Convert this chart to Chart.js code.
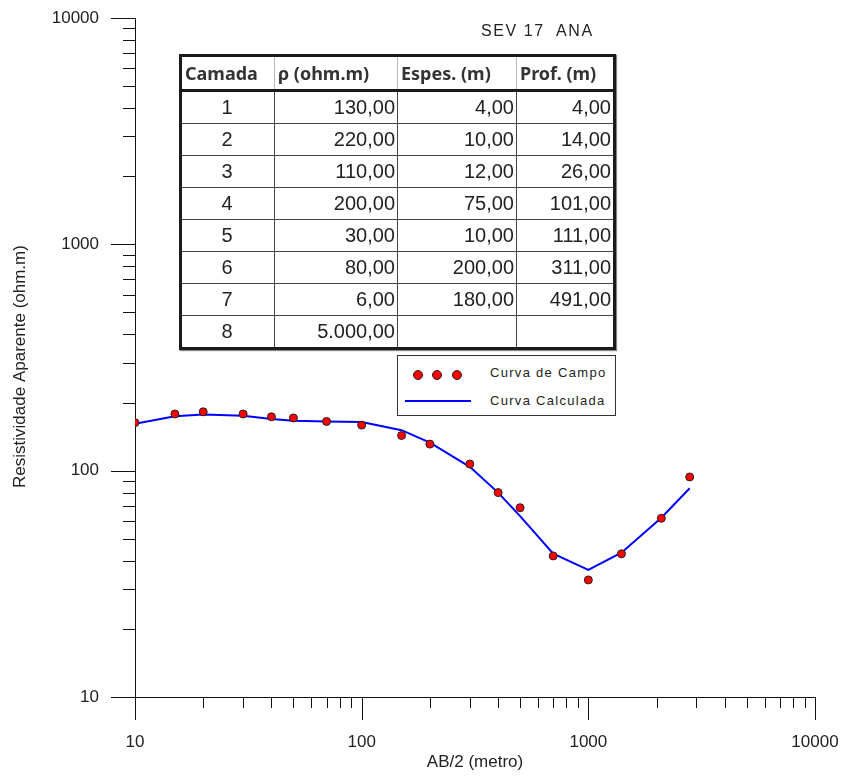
<!DOCTYPE html>
<html>
<head>
<meta charset="utf-8">
<script src="https://cdn.jsdelivr.net/npm/chart.js@4.4.1/dist/chart.umd.min.js"></script>
<style>
  body { margin: 0; background: #fff; }
  #wrap { position: relative; width: 845px; height: 778px; }
  #sevTitle { position: absolute; left: 481px; top: 22px; font: 16px "Liberation Sans", Arial, sans-serif; letter-spacing: 1.6px; color: #222; white-space: pre; }
  #layers { position: absolute; left: 179px; top: 54px; border-collapse: collapse; border: 3px solid #1a1a1a; background: #fff; box-shadow: 1px 1px 1px #888; table-layout: fixed; }
  #layers th { font: bold 18px "Noto Sans", "Open Sans", sans-serif; color: #333; height: 32px; padding: 0 3px; border-left: 1px solid #bbb; border-right: 1px solid #bbb; border-bottom: 3px solid #1a1a1a; text-align: left; white-space: nowrap; overflow: hidden; }
  #layers td { font: 20px "Liberation Sans", Arial, sans-serif; color: #222; height: 31px; padding: 0 2px 0 0; border: 1px solid #444; text-align: right; line-height: 31px; }
  #layers td:first-child { text-align: center; }
  #legend { position: absolute; left: 397px; top: 355px; width: 217px; height: 59px; border: 1px solid #333; background: #fff; font: 13px "Liberation Sans", Arial, sans-serif; letter-spacing: 1.3px; color: #222; }
  .dot { position: absolute; top: 14px; width: 8px; height: 8px; border-radius: 50%; background: #ff0000; border: 1px solid #222; }
  .lbl { position: absolute; left: 92px; }
</style>
</head>
<body>
<div id="wrap">
  <canvas id="chart1" width="845" height="778"></canvas>
  <div id="sevTitle">SEV 17  ANA</div>
  <table id="layers"></table>
  <div id="legend">
    <div class="dot" style="left:15px"></div>
    <div class="dot" style="left:34px"></div>
    <div class="dot" style="left:54px"></div>
    <div class="lbl" style="top:9px">Curva de Campo</div>
    <div style="position:absolute;left:7px;top:44px;width:66px;height:2px;background:#0000ff"></div>
    <div class="lbl" style="top:37px">Curva Calculada</div>
  </div>
</div>
<script>
// AB/2 spacings (m) and apparent resistivity (ohm.m)
const abSpacing = [10, 15, 20, 30, 40, 50, 70, 100, 150, 200, 300, 400, 500, 700, 1000, 1400, 2100, 2800];
const fieldRho = [163, 178, 182, 178, 173, 171, 165, 159, 143, 131, 107, 80, 68.6, 42, 32.9, 42.9, 61.6, 93.8];
const calcRho = [161, 174, 177, 175, 169, 166, 165, 164, 151, 133, 104, 80, 63, 43, 36.4, 43.4, 62, 83.6];

// axis ticks
const majorTicks = [10, 100, 1000, 10000];
const minorSteps = [2, 3, 4, 5, 6, 7, 8, 9];
const yTitle = 'Resistividade Aparente (ohm.m)';

// layer model table
const layerNo = [1, 2, 3, 4, 5, 6, 7, 8];
const layerRho = [130, 220, 110, 200, 30, 80, 6, 5000];
const layerThick = [4, 10, 12, 75, 10, 200, 180, null];
const layerDepth = [4, 14, 26, 101, 111, 311, 491, null];
const tableHeader = ['Camada', 'ρ (ohm.m)', 'Espes. (m)', 'Prof. (m)'];
const colWidths = [94, 123, 119, 98];

function fmtBR(v) {
  if (v === null) return '';
  const parts = v.toFixed(2).split('.');
  parts[0] = parts[0].replace(/\B(?=(\d{3})+(?!\d))/g, '.');
  return parts[0] + ',' + parts[1];
}

// build table
const table = document.getElementById('layers');
let html = '<colgroup>' + colWidths.map(w => '<col style="width:' + w + 'px">').join('') + '</colgroup>';
html += '<tr>' + tableHeader.map(h => '<th>' + h + '</th>').join('') + '</tr>';
for (let i = 0; i < layerNo.length; i++) {
  html += '<tr><td>' + layerNo[i] + '</td><td>' + fmtBR(layerRho[i]) + '</td><td>' + fmtBR(layerThick[i]) + '</td><td>' + fmtBR(layerDepth[i]) + '</td></tr>';
}
table.innerHTML = html;

let allTicks = [];
majorTicks.forEach(m => {
  allTicks.push(m);
  if (m < 10000) minorSteps.forEach(s => allTicks.push(m * s));
});

// draws the outside tick marks (long for decades) and the y axis title
const tickMarks = {
  id: 'tickMarks',
  afterDraw(chart) {
    const ctx = chart.ctx;
    const a = chart.chartArea;
    const xs = chart.scales.x, ys = chart.scales.y;
    ctx.save();
    ctx.strokeStyle = '#111';
    ctx.lineWidth = 1;
    ctx.beginPath();
    xs.ticks.forEach(t => {
      const px = Math.round(xs.getPixelForValue(t.value)) + 0.5;
      const len = majorTicks.includes(t.value) ? 23 : 11;
      ctx.moveTo(px, a.bottom);
      ctx.lineTo(px, a.bottom + len);
    });
    ys.ticks.forEach(t => {
      const py = Math.round(ys.getPixelForValue(t.value)) + 0.5;
      const len = majorTicks.includes(t.value) ? 24 : 12;
      ctx.moveTo(a.left, py);
      ctx.lineTo(a.left - len, py);
    });
    ctx.stroke();

    ctx.translate(20, (a.top + a.bottom) / 2 + 9);
    ctx.rotate(-Math.PI / 2);
    ctx.fillStyle = '#222';
    ctx.font = '17px "Liberation Sans", Arial, sans-serif';
    ctx.textAlign = 'center';
    ctx.textBaseline = 'middle';
    ctx.fillText(yTitle, 0, 0);
    ctx.restore();
  }
};

const ctx = document.getElementById('chart1').getContext('2d');
const chart = new Chart(ctx, {
  type: 'scatter',
  data: {
    datasets: [{
      label: 'Curva Calculada',
      data: abSpacing.map((x, i) => ({ x: x, y: calcRho[i] })),
      showLine: true,
      borderColor: '#0000ff',
      borderWidth: 2,
      pointRadius: 0,
      tension: 0,
      order: 2
    }, {
      label: 'Curva de Campo',
      data: abSpacing.map((x, i) => ({ x: x, y: fieldRho[i] })),
      backgroundColor: '#ff0000',
      borderColor: '#222',
      borderWidth: 1,
      pointRadius: 4,
      order: 1
    }]
  },
  options: {
    responsive: false,
    animation: false,
    layout: { padding: { left: 0, right: 30, top: 18, bottom: 0 } },
    plugins: { legend: { display: false }, tooltip: { enabled: false } },
    scales: {
      x: {
        type: 'logarithmic',
        min: 10, max: 10000,
        afterBuildTicks: s => { s.ticks = allTicks.map(v => ({ value: v })); },
        afterFit: s => { s.height = 81; s.paddingLeft = 0; s.paddingRight = 0; },
        grid: { display: false },
        border: { display: true, color: '#111', width: 1 },
        ticks: {
          autoSkip: false, maxRotation: 0, padding: 27,
          color: '#222', font: { family: '"Liberation Sans", Arial, sans-serif', size: 17 },
          callback: v => majorTicks.includes(v) ? String(v) : ''
        },
        title: { display: true, text: 'AB/2 (metro)', color: '#222', padding: { top: 0, bottom: 5 },
          font: { family: '"Liberation Sans", Arial, sans-serif', size: 17 } }
      },
      y: {
        type: 'logarithmic',
        min: 10, max: 10000,
        afterBuildTicks: s => { s.ticks = allTicks.map(v => ({ value: v })); },
        afterFit: s => { s.width = 135; s.paddingTop = 0; s.paddingBottom = 0; },
        grid: { display: false },
        border: { display: true, color: '#111', width: 1 },
        ticks: {
          autoSkip: false, padding: 28,
          color: '#222', font: { family: '"Liberation Sans", Arial, sans-serif', size: 17 },
          callback: v => majorTicks.includes(v) ? String(v) : ''
        }
      }
    }
  },
  plugins: [tickMarks]
});
</script>
</body>
</html>
